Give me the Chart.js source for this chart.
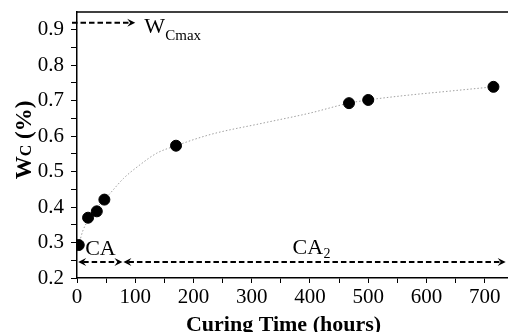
<!DOCTYPE html>
<html>
<head>
<meta charset="utf-8">
<script src="https://cdn.jsdelivr.net/npm/chart.js@4/dist/chart.umd.min.js"></script>
<style>
  html, body { margin: 0; padding: 0; background: #fff; overflow: hidden; }
  canvas { display: block; }
</style>
</head>
<body>
<canvas id="wc-canvas" width="508" height="332"></canvas>
<script>
// measured points
const hours = [3, 19, 34, 47, 170, 467, 500, 715];
const wc = [0.293, 0.370, 0.388, 0.421, 0.573, 0.693, 0.702, 0.739];

// dotted fit curve
const fitHours = [3, 10, 20, 35, 57, 80, 108, 137, 170, 230, 320, 400, 467, 500, 560, 640, 715];
const fitWc = [0.293, 0.333, 0.365, 0.400, 0.439, 0.481, 0.519, 0.552, 0.573, 0.605, 0.637, 0.665, 0.693, 0.702, 0.714, 0.727, 0.739];

// axis ticks (minor ticks every half step)
const xTicks = [0, 50, 100, 150, 200, 250, 300, 350, 400, 450, 500, 550, 600, 650, 700];
const yTicks = [0.2, 0.25, 0.3, 0.35, 0.4, 0.45, 0.5, 0.55, 0.6, 0.65, 0.7, 0.75, 0.8, 0.85, 0.9];

// annotation values
const wcMax = 0.92;
const caStart = 2;
const caEnd = 78;
const ca2End = 736;
const caLevel = 0.245;

const serif = "'Liberation Serif', 'Times New Roman', serif";
const canvas = document.getElementById("wc-canvas");

function arrowHead(ctx, x, y, dir) {
  // dir = 1 points right, -1 points left
  ctx.beginPath();
  ctx.moveTo(x, y);
  ctx.lineTo(x - dir * 8, y - 4);
  ctx.lineTo(x - dir * 5, y);
  ctx.lineTo(x - dir * 8, y + 4);
  ctx.closePath();
  ctx.fill();
}

function dashed(ctx, x1, x2, y) {
  ctx.save();
  ctx.setLineDash([5.5, 3]);
  ctx.lineWidth = 2;
  ctx.beginPath();
  ctx.moveTo(x1, y);
  ctx.lineTo(x2, y);
  ctx.stroke();
  ctx.restore();
}

const extras = {
  id: "extras",
  afterDraw(chart) {
    const ctx = chart.ctx;
    const xs = chart.scales.x;
    const ys = chart.scales.y;
    const area = chart.chartArea;
    ctx.save();
    ctx.fillStyle = "#000";
    ctx.strokeStyle = "#000";

    // top frame line
    ctx.lineWidth = 1.5;
    ctx.beginPath();
    ctx.moveTo(area.left, area.top);
    ctx.lineTo(area.right, area.top);
    ctx.stroke();

    // y title  W_C (%)
    ctx.save();
    ctx.translate(31, (area.top + area.bottom) / 2 - 5);
    ctx.rotate(-Math.PI / 2);
    ctx.textBaseline = "alphabetic";
    ctx.font = "bold 23px " + serif;
    const wW = ctx.measureText("W").width;
    const restW = ctx.measureText(" (%)").width;
    ctx.font = "bold 16px " + serif;
    const cW = ctx.measureText("C").width;
    let tx = -(wW + cW + restW) / 2;
    ctx.font = "bold 23px " + serif;
    ctx.fillText("W", tx, 0);
    ctx.font = "bold 16px " + serif;
    ctx.fillText("C", tx + wW, 0);
    ctx.font = "bold 23px " + serif;
    ctx.fillText(" (%)", tx + wW + cW, 0);
    ctx.restore();

    // x title
    ctx.font = "bold 22px " + serif;
    ctx.textAlign = "center";
    ctx.textBaseline = "alphabetic";
    ctx.fillText("Curing Time (hours)", (area.left + area.right) / 2 - 9, 331);
    ctx.textAlign = "left";

    // W_Cmax arrow
    const yMax = ys.getPixelForValue(wcMax);
    const xMaxTip = xs.getPixelForValue(100);
    dashed(ctx, area.left - 5, xMaxTip - 5, yMax);
    arrowHead(ctx, xMaxTip, yMax, 1);
    ctx.font = "22px " + serif;
    ctx.fillText("W", xMaxTip + 9, yMax + 10);
    ctx.font = "15px " + serif;
    ctx.fillText("Cmax", xMaxTip + 30, yMax + 17);

    // CA / CA2 arrows
    const yCa = ys.getPixelForValue(caLevel);
    const x0 = xs.getPixelForValue(caStart);
    const x1 = xs.getPixelForValue(caEnd);
    const x2 = xs.getPixelForValue(ca2End);
    dashed(ctx, x0 + 5, x1 - 5, yCa);
    arrowHead(ctx, x0, yCa, -1);
    arrowHead(ctx, x1, yCa, 1);
    dashed(ctx, x1 + 6, x2 - 5, yCa);
    arrowHead(ctx, x1 + 1, yCa, -1);
    arrowHead(ctx, x2, yCa, 1);

    ctx.font = "22px " + serif;
    ctx.fillText("CA", xs.getPixelForValue(14), yCa - 7);
    ctx.fillText("CA", xs.getPixelForValue(370), yCa - 8);
    ctx.font = "14px " + serif;
    ctx.fillText("2", xs.getPixelForValue(370) + 31, yCa - 4);

    ctx.restore();
  }
};

new Chart(canvas, {
  type: "scatter",
  data: {
    datasets: [
      {
        data: hours.map((h, i) => ({ x: h, y: wc[i] })),
        backgroundColor: "#000",
        borderColor: "#000",
        pointRadius: 5.5,
        pointHoverRadius: 5.5,
        showLine: false,
        order: 1
      },
      {
        data: fitHours.map((h, i) => ({ x: h, y: fitWc[i] })),
        borderColor: "#a0a0a0",
        borderWidth: 1,
        borderDash: [1.5, 2],
        pointRadius: 0,
        showLine: true,
        cubicInterpolationMode: "monotone",
        order: 2
      }
    ]
  },
  options: {
    responsive: false,
    animation: false,
    devicePixelRatio: 1,
    layout: { autoPadding: false, padding: { top: 12, right: 0, left: 0, bottom: 0 } },
    plugins: {
      legend: { display: false },
      tooltip: { enabled: false }
    },
    scales: {
      x: {
        type: "linear",
        min: 0,
        max: 740,
        afterBuildTicks: (s) => { s.ticks = xTicks.map((v) => ({ value: v })); },
        afterFit: (s) => { s.height = 54; s.paddingLeft = 0; s.paddingRight = 0; },
        ticks: {
          autoSkip: false,
          maxRotation: 0,
          padding: 2,
          color: "#000",
          font: { family: serif, size: 21 },
          callback: (v) => (v % 100 === 0 ? String(v) : "")
        },
        grid: { drawOnChartArea: false, drawTicks: true, tickLength: 5, color: "#000" },
        border: { display: true, color: "#000", width: 1.5 }
      },
      y: {
        min: 0.2,
        max: 0.95,
        afterBuildTicks: (s) => { s.ticks = yTicks.map((v) => ({ value: v })); },
        afterFit: (s) => { s.width = 77; s.paddingTop = 0; s.paddingBottom = 0; },
        ticks: {
          autoSkip: false,
          padding: 7,
          color: "#000",
          font: { family: serif, size: 21 },
          callback: (v) => (Math.round(v * 100) % 10 === 0 ? v.toFixed(1) : "")
        },
        grid: { drawOnChartArea: false, drawTicks: true, tickLength: 6, color: "#000" },
        border: { display: true, color: "#000", width: 1.5 }
      }
    }
  },
  plugins: [extras]
});
</script>
</body>
</html>
